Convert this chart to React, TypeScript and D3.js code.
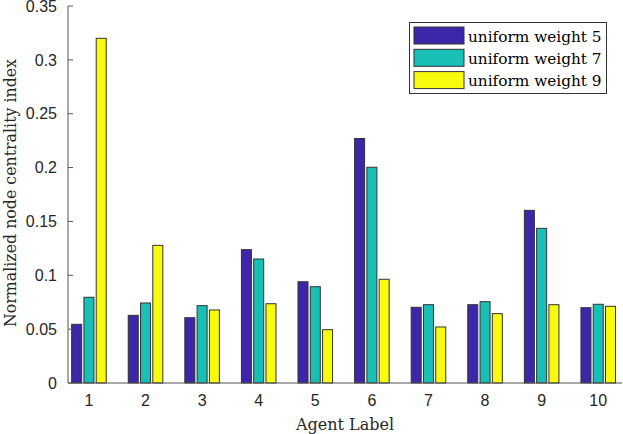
import { scaleLinear, range } from "d3";

const agents = [1, 2, 3, 4, 5, 6, 7, 8, 9, 10];
const seriesNames = ["uniform weight 5", "uniform weight 7", "uniform weight 9"];
const weight5 = [0.0545, 0.0628, 0.0606, 0.1238, 0.094, 0.227, 0.0703, 0.0727, 0.1603, 0.0699];
const weight7 = [0.0796, 0.0743, 0.0718, 0.1151, 0.0894, 0.2003, 0.0727, 0.0755, 0.1436, 0.0731];
const weight9 = [0.32, 0.1278, 0.0678, 0.0736, 0.0495, 0.0963, 0.052, 0.0644, 0.0727, 0.0712];
const yTicks = [0, 0.05, 0.1, 0.15, 0.2, 0.25, 0.3, 0.35];
const colors = ["#3e26a8", "#17bfb4", "#f9fb0e"];

const series = [weight5, weight7, weight9];

const left = 68;
const right = 622;
const top = 6;
const bottom = 383;

const App = () => {
  const x = scaleLinear().domain([0.63, 10.42]).range([left, right]);
  const y = scaleLinear().domain([0, 0.35]).range([bottom, top]);
  const offset = 0.217;
  const barW = x(0.177) - x(0);
  const sans = "'Liberation Sans', Arial, sans-serif";
  const serif = "'DejaVu Serif', serif";

  return (
    <svg width={623} height={434} style={{ position: "absolute", left: 0, top: 0, background: "#fff" }}>
      {series.map((vals, s) =>
        vals.map((v, i) => {
          const cx = x(agents[i] + (s - 1) * offset);
          return (
            <rect
              key={`${s}-${i}`}
              x={cx - barW / 2}
              y={y(v)}
              width={barW}
              height={y(0) - y(v)}
              fill={colors[s]}
              stroke="#333"
              strokeWidth={1}
            />
          );
        })
      )}
      {/* axes */}
      <line x1={left} x2={left} y1={top} y2={bottom} stroke="#555" strokeWidth={1} />
      <line x1={left} x2={right} y1={bottom} y2={bottom} stroke="#555" strokeWidth={1} />
      {yTicks.map((t) => (
        <g key={t}>
          <line x1={left} x2={left + 5} y1={y(t)} y2={y(t)} stroke="#555" />
          <text x={left - 11} y={y(t)} dy="0.36em" textAnchor="end" fontFamily={sans} fontSize={16} fill="#262626">
            {t}
          </text>
        </g>
      ))}
      {agents.map((a) => (
        <text key={a} x={x(a)} y={406} textAnchor="middle" fontFamily={sans} fontSize={16} fill="#262626">
          {a}
        </text>
      ))}
      <text x={345} y={430} textAnchor="middle" fontFamily={serif} fontSize={16} fill="#262626">
        Agent Label
      </text>
      <text
        transform={`translate(16, 193) rotate(-90)`}
        textAnchor="middle"
        fontFamily={serif}
        fontSize={15.8}
        fill="#262626"
      >
        Normalized node centrality index
      </text>
      {/* legend */}
      <rect x={409.5} y={22.5} width={197} height={71} fill="#fff" stroke="#333" strokeWidth={1} />
      {range(3).map((s) => (
        <g key={s}>
          <rect x={414} y={27 + s * 22.3} width={50} height={17} fill={colors[s]} stroke="#333" />
          <text x={468} y={41.5 + s * 22.3} fontFamily={serif} fontSize={15.3} fill="#000">
            {seriesNames[s]}
          </text>
        </g>
      ))}
    </svg>
  );
};

export default App;
